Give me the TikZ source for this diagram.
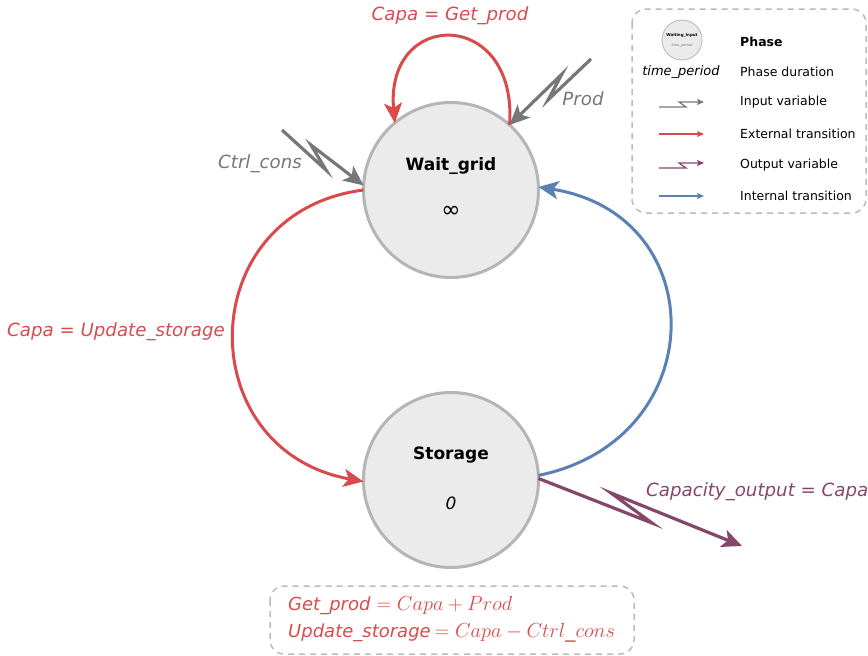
\RequirePackage{fix-cm}
\documentclass[tikz,border=0pt]{standalone}
\usepackage{fontspec}
\usepackage{graphicx}
\setmainfont{DejaVu Sans}
\usetikzlibrary{arrows.meta}
\definecolor{cred}{HTML}{D94B4B}
\definecolor{cgray}{HTML}{777777}
\definecolor{cpurp}{HTML}{86466A}
\definecolor{cblue}{HTML}{5B80B4}
\definecolor{cfill}{HTML}{EBEBEB}
\definecolor{cbord}{HTML}{B5B5B5}
\definecolor{cdash}{HTML}{BBBBBB}
\tikzset{
  phase/.style={circle,draw=cbord,fill=cfill,line width=3pt,minimum size=175pt,inner sep=0pt,outer sep=0pt},
  bigtip/.style={-{Stealth[length=20pt,width=18pt,inset=5pt]}},
  smalltip/.style={-{Stealth[length=7pt,width=6pt,inset=1.5pt]}},
  ext/.style={draw=cred,line width=3pt,bigtip,fill=none},
  intl/.style={draw=cblue,line width=3pt,bigtip,fill=none},
  inp/.style={draw=cgray,line width=3.2pt,bigtip,fill=none},
  outp/.style={draw=cpurp,line width=3.2pt,bigtip,fill=none},
  lbl/.style={font=\fontsize{18.2}{21}\selectfont\itshape,inner sep=0pt},
  legtxt/.style={font=\fontsize{12.5}{14}\selectfont,anchor=west,inner sep=0pt},
  dbox/.style={draw=cdash,dashed,dash pattern=on 6pt off 5pt,line width=1.5pt,rounded corners=14pt},
}
\begin{document}
\begin{tikzpicture}[x=1pt,y=-1pt]
\useasboundingbox (0,0) rectangle (868,656);
% phases
\node[phase] (wait) at (451,190) {};
\node[phase] (stor) at (451,480) {};
\node[font=\fontsize{17}{20}\selectfont\bfseries,inner sep=0pt] (waitname) at (451,166) {Wait\_grid};
\node[font=\fontsize{23}{26}\selectfont,inner sep=0pt] (waitdur) at (451,212) {∞};
\node[font=\fontsize{17}{20}\selectfont\bfseries,inner sep=0pt] (storname) at (451,455) {Storage};
\node[font=\fontsize{17}{20}\selectfont\itshape,inner sep=0pt] (stordur) at (451,503) {0};
% self loop
\draw[ext] (wait.48.5) .. controls (518,8) and (385,8) .. (wait.130);
\node[lbl,text=cred] (getlbl) at (450,16) {Capa = Get\_prod};
% external transition wait -> storage
\draw[ext] (wait.180) .. controls (192,212) and (190,450) .. (stor.181);
\node[lbl,text=cred] (updlbl) at (116,332) {Capa = Update\_storage};
% internal transition storage -> wait
\draw[intl] (stor.3) .. controls (712,440) and (714,215) .. (wait.2);
% inputs
\coordinate (ctrlin) at (282,130);
\draw[inp] (ctrlin) -- (326,170) -- (311,145) -- (wait.177);
\node[lbl,text=cgray] (ctrllbl) at (260,164) {Ctrl\_cons};
\coordinate (prodin) at (591,59);
\draw[inp] (prodin) -- (548,100) -- (562,74) -- (wait.48.5);
\node[lbl,text=cgray] (prodlbl) at (583,99) {Prod};
% output
\coordinate (outend) at (742,546);
\draw[outp] (stor.1) -- (652,523) -- (611,493) -- (outend);
\node[lbl,text=cpurp,anchor=west] (outlbl) at (646,492) {Capacity\_output = Capa};
% legend
\draw[dbox] (632,9) rectangle (866,213);
\node[circle,draw=cbord,fill=cfill,line width=0.8pt,minimum size=40pt,inner sep=0pt] (legph) at (682,40) {};
\node[font=\fontsize{4}{5}\selectfont\bfseries,inner sep=0pt] (legphn) at (682,35) {Waiting\_Input};
\node[font=\fontsize{3.5}{4}\selectfont\itshape,text=cgray,inner sep=0pt] (legphd) at (682,46) {time\_period};
\node[font=\fontsize{13}{15}\selectfont\itshape,inner sep=0pt] (legdur) at (681,72) {time\_period};
\node[legtxt,font=\fontsize{12.5}{14}\selectfont\bfseries] (l1) at (740,42) {Phase};
\node[legtxt] (l2) at (740,72) {Phase duration};
\node[legtxt] (l3) at (740,102) {Input variable};
\node[legtxt] (l4) at (740,134) {External transition};
\node[legtxt] (l5) at (740,165) {Output variable};
\node[legtxt] (l6) at (740,196) {Internal transition};
\coordinate (a3s) at (659,107); \coordinate (a3e) at (704,102);
\draw[draw=cgray,line width=1.2pt,smalltip] (a3s) -- (686,107) -- (679,102) -- (a3e);
\coordinate (a4s) at (659,134); \coordinate (a4e) at (704,134);
\draw[draw=cred,line width=1.2pt,smalltip] (a4s) -- (a4e);
\coordinate (a5s) at (659,168); \coordinate (a5e) at (704,163);
\draw[draw=cpurp,line width=1.2pt,smalltip] (a5s) -- (686,168) -- (679,163) -- (a5e);
\coordinate (a6s) at (659,196); \coordinate (a6e) at (704,196);
\draw[draw=cblue,line width=1.2pt,smalltip] (a6s) -- (a6e);
% bottom box
\draw[dbox] (270,586) rectangle (634,654);
\node[anchor=west,text=cred,inner sep=0pt,font=\fontsize{18}{20}\selectfont] (eq1) at (288,606) {\itshape Get\_prod\/\hspace{6pt}\scalebox{1.13}{$= Capa + Prod$}};
\node[anchor=west,text=cred,inner sep=0pt,font=\fontsize{18}{20}\selectfont] (eq2) at (288,633) {\itshape Update\_storage\/\hspace{4pt}\scalebox{1.13}{$= Capa - Ctrl\_cons$}};
\end{tikzpicture}
\end{document}
